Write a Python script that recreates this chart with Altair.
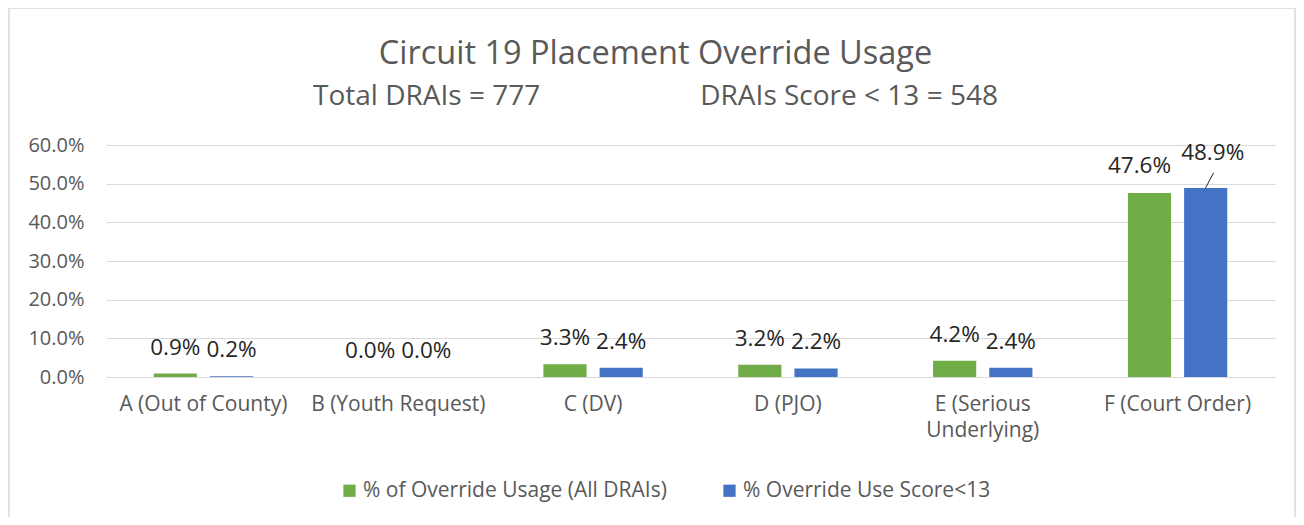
import altair as alt
import pandas as pd

categories = ["A (Out of County)", "B (Youth Request)", "C (DV)", "D (PJO)",
              "E (Serious Underlying)", "F (Court Order)"]
series_names = ["% of Override Usage (All DRAIs)", "% Override Use Score<13"]
all_drais = [0.9, 0.0, 3.3, 3.2, 4.2, 47.6]
score_lt13 = [0.2, 0.0, 2.4, 2.2, 2.4, 48.9]
colors = ["#70AD47", "#4472C4"]
y_ticks = [0, 10, 20, 30, 40, 50, 60]

title_text = "Circuit 19 Placement Override Usage"
subtitle_text = "Total DRAIs = 777" + "\u00a0" * 22 + "DRAIs Score < 13 = 548"

rows = []
for i, c in enumerate(categories):
    rows.append({"cat": c, "series": series_names[0], "value": all_drais[i]})
    rows.append({"cat": c, "series": series_names[1], "value": score_lt13[i]})
df = pd.DataFrame(rows)
df["label"] = df["value"].map(lambda v: f"{v:.1f}%")

FONT = "Open Sans"
W, H = 1169, 232

x_enc = alt.X("cat:N", sort=categories,
              scale=alt.Scale(paddingInner=0.49, paddingOuter=0.245),
              axis=alt.Axis(title=None, labelAngle=0, domain=False, ticks=False,
                            labelFont=FONT, labelFontSize=21, labelColor="#595959",
                            labelPadding=16, labelLineHeight=26,
                            labelExpr="datum.label == 'E (Serious Underlying)' ? ['E (Serious', 'Underlying)'] : datum.label"))
xoff_enc = alt.XOffset("series:N", sort=series_names,
                       scale=alt.Scale(domain=series_names, paddingInner=0.232))
y_enc = alt.Y("value:Q", scale=alt.Scale(domain=[0, 60], nice=False),
              axis=alt.Axis(title=None, values=y_ticks, domain=False, ticks=False,
                            labelFont=FONT, labelFontSize=20, labelColor="#595959",
                            labelPadding=22, gridColor="#d9d9d9", gridWidth=1,
                            labelOverlap=False, tickCount=7,
                            labelExpr="format(datum.value, '.1f') + '%'"))
color_enc = alt.Color("series:N", sort=series_names,
                      scale=alt.Scale(domain=series_names, range=colors),
                      legend=alt.Legend(title=None, orient="none", direction="horizontal",
                                        legendX=233, legendY=335, symbolType="square",
                                        symbolSize=150, symbolStrokeWidth=0,
                                        labelFont=FONT, labelFontSize=21, labelLimit=0,
                                        labelColor="#595959", columnPadding=52,
                                        labelOffset=3))

base = alt.Chart(df)

bars = base.mark_bar().encode(x=x_enc, xOffset=xoff_enc, y=y_enc, color=color_enc)

not_f = alt.datum.cat != "F (Court Order)"
labels = base.mark_text(baseline="alphabetic", dy=-19, font=FONT, fontSize=22.5,
                        color="#262626").encode(
    x=x_enc, xOffset=xoff_enc, y=y_enc, text="label:N"
).transform_filter(not_f)

f_green = base.mark_text(baseline="alphabetic", dx=-10, dy=-20, font=FONT, fontSize=22.5,
                         color="#262626").encode(
    x=x_enc, xOffset=xoff_enc, y=y_enc, text="label:N"
).transform_filter((alt.datum.cat == "F (Court Order)") & (alt.datum.series == series_names[0]))

f_blue = base.mark_text(baseline="alphabetic", dx=7, dy=-28, font=FONT, fontSize=22.5,
                        color="#262626").encode(
    x=x_enc, xOffset=xoff_enc, y=y_enc, text="label:N"
).transform_filter((alt.datum.cat == "F (Court Order)") & (alt.datum.series == series_names[1]))

leader = base.mark_rule(color="#262626", strokeWidth=1, xOffset=28, x2Offset=36).encode(
    x=alt.X("cat:N", sort=categories, bandPosition=0.5),
    x2=alt.X2("cat", bandPosition=0.5),
    y=y_enc,
    y2="top:Q",
).transform_filter(
    (alt.datum.cat == "F (Court Order)") & (alt.datum.series == series_names[1])
).transform_calculate(top="datum.value + 3.9")

border = alt.Chart(pd.DataFrame({"b": [0]})).mark_rect(
    fill=None, stroke="#d9d9d9", strokeWidth=1.5
).encode(x=alt.value(-97), x2=alt.value(1189), y=alt.value(-137), y2=alt.value(375))

chart = alt.layer(bars, labels, f_green, f_blue, leader, border).properties(
    width=W, height=H,
    padding={"left": 98, "top": 137, "right": 21, "bottom": 140},
    autosize=alt.AutoSizeParams(type="none"),
    title=alt.TitleParams(text=title_text, subtitle=subtitle_text, anchor="middle",
                          font=FONT, fontSize=32.5, fontWeight="normal", color="#595959",
                          subtitleFont=FONT, subtitleFontSize=28, subtitleColor="#595959",
                          subtitlePadding=13, offset=-104, dx=-35),
).configure_view(stroke=None)

chart.save("out.html", embed_options={"renderer": "svg", "actions": False})
